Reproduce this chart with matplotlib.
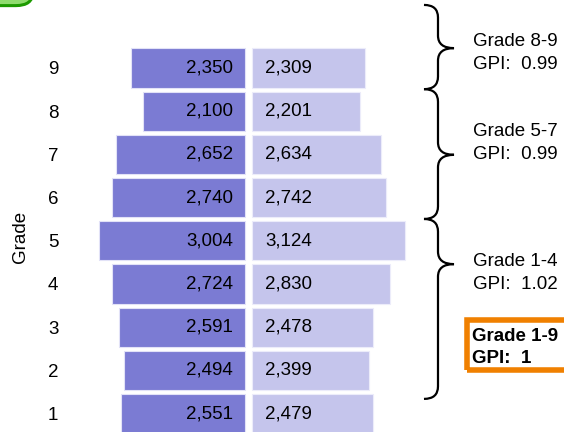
import matplotlib
matplotlib.use('Agg')
import matplotlib.pyplot as plt
from matplotlib.path import Path
from matplotlib.patches import PathPatch, Rectangle, FancyBboxPatch

plt.rcParams['font.family'] = ['Liberation Sans', 'DejaVu Sans']

grades = [1, 2, 3, 4, 5, 6, 7, 8, 9]
boys = [2551, 2494, 2591, 2724, 3004, 2740, 2652, 2100, 2350]
girls = [2479, 2399, 2478, 2830, 3124, 2742, 2634, 2201, 2309]

group_labels = ['Grade 8-9\nGPI:  0.99', 'Grade 5-7\nGPI:  0.99', 'Grade 1-4\nGPI:  1.02']
group_top = [10.46, 8.51, 5.505]
group_bot = [8.51, 5.505, 1.34]
group_tip = [9.46, 6.99, 4.46]
group_text_y = [9.34, 7.26, 4.26]

total_label = 'Grade 1-9\nGPI:  1'

dark = '#7b7bd3'
light = '#c5c5ec'
gap = 72

fig = plt.figure(figsize=(5.64, 4.32), dpi=100)
ax = fig.add_axes([75 / 564, 0, 1 - 75 / 564, 1])

ax.barh(grades, [-v for v in boys], left=-gap, height=0.91,
        color=dark, edgecolor='#e2e2f7', linewidth=0.8)
ax.barh(grades, girls, left=gap, height=0.91,
        color=light, edgecolor='#ececfa', linewidth=0.8)

for g, b, w in zip(grades, boys, girls):
    ax.annotate(f'{b:,}', (-gap, g), xytext=(-9, 0), textcoords='offset points',
                ha='right', va='center', fontsize=13.5, color='black')
    ax.annotate(f'{w:,}', (gap, g), xytext=(9.5, 0), textcoords='offset points',
                ha='left', va='center', fontsize=13.5, color='black')


def brace(top, bot, tip, x0=3590, xs=3877, xt=4205, r=0.29):
    verts = [(x0, top), (xs, top), (xs, top - r),
             (xs, tip + r),
             (xs, tip), (xt, tip),
             (xs, tip), (xs, tip - r),
             (xs, bot + r),
             (xs, bot), (x0, bot)]
    codes = [Path.MOVETO, Path.CURVE3, Path.CURVE3, Path.LINETO,
             Path.CURVE3, Path.CURVE3, Path.CURVE3, Path.CURVE3,
             Path.LINETO, Path.CURVE3, Path.CURVE3]
    ax.add_patch(PathPatch(Path(verts, codes), fill=False, lw=1.6,
                           edgecolor='black', clip_on=False))


for lab, t, b, tip, ty in zip(group_labels, group_top, group_bot, group_tip, group_text_y):
    brace(t, b, tip)
    ax.text(4600, ty, lab, ha='left', va='center', fontsize=13.5, linespacing=1.45)

ax.add_patch(Rectangle((4481, 1.998), 3000, 1.18, fill=False,
                       edgecolor='#f08000', lw=4, clip_on=False))
ax.text(4574, 2.53, total_label, ha='left', va='center', fontsize=13.5,
        fontweight='bold', linespacing=1.45)

ax.set_xlim(-3561, 6459)
ax.set_ylim(0.574, 10.574)
ax.set_yticks(grades)
ax.set_yticklabels([str(g) for g in grades], fontsize=13.5)
ax.tick_params(axis='y', length=0, pad=12)
ax.set_xticks([])
for s in ax.spines.values():
    s.set_visible(False)
ax.set_ylabel('Grade', fontsize=13.5, va='center')
ax.yaxis.set_label_coords(-0.112, 0.451)

fig.patches.append(FancyBboxPatch((-0.1, 0.987), 0.158, 0.1,
                                  boxstyle='round,pad=0,rounding_size=0.03',
                                  transform=fig.transFigure, facecolor='#8fdc6e',
                                  edgecolor='#1c9a00', lw=2.2, figure=fig))

fig.savefig('out.png', dpi=100)
